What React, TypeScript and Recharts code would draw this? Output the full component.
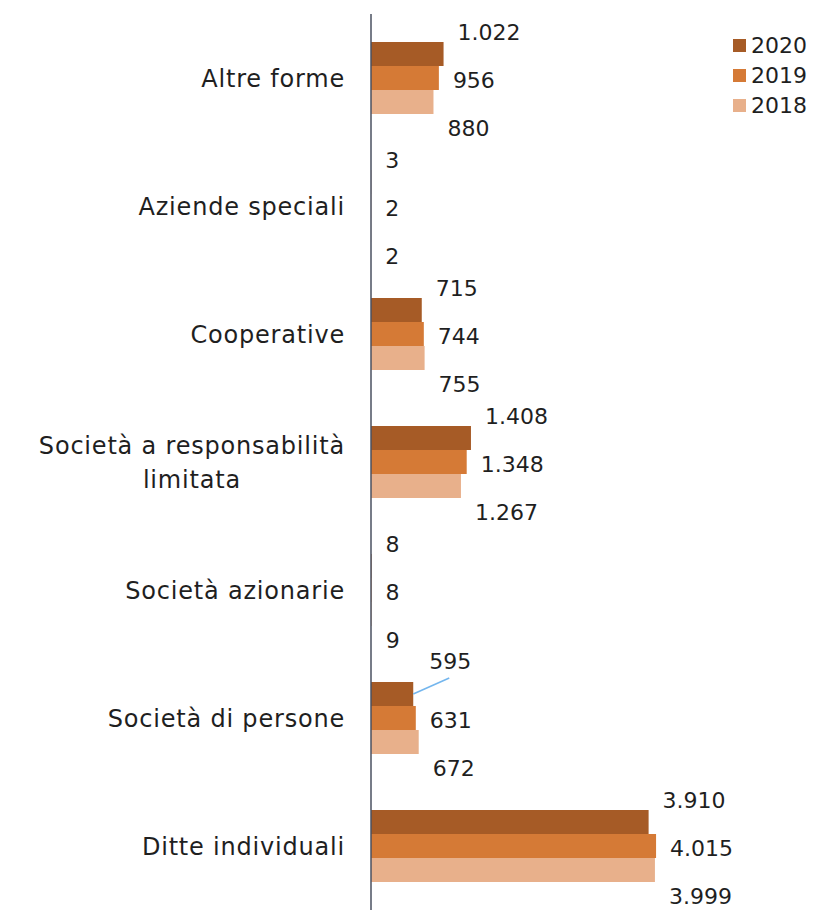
import { BarChart, Bar, XAxis, YAxis, LabelList } from 'recharts';

const categories = [
  'Altre forme',
  'Aziende speciali',
  'Cooperative',
  'Società a responsabilità limitata',
  'Società azionarie',
  'Società di persone',
  'Ditte individuali',
];
const values2020 = [1022, 3, 715, 1408, 8, 595, 3910];
const values2019 = [956, 2, 744, 1348, 8, 631, 4015];
const values2018 = [880, 2, 755, 1267, 9, 672, 3999];
const years = ['2020', '2019', '2018'];

const COLORS: Record<string, string> = { '2020': '#A65B26', '2019': '#D57A36', '2018': '#E8B08B' };
const FONT = '"DejaVu Sans", sans-serif';
const TEXT = '#1f1f1f';
const CAT_SPACING = 0.8;

const data = categories.map((name, i) => ({
  name,
  '2020': values2020[i],
  '2019': values2019[i],
  '2018': values2018[i],
}));

const fmt = (v: number) => v.toLocaleString('it-IT');

let ctx: CanvasRenderingContext2D | null = null;
function measure(text: string, size: number) {
  if (!ctx) ctx = document.createElement('canvas').getContext('2d');
  if (!ctx) return text.length * size * 0.55;
  ctx.font = `${size}px "DejaVu Sans"`;
  return ctx.measureText(text).width + text.length * CAT_SPACING;
}

function wrap(text: string, size: number, max: number) {
  const words = text.split(' ');
  const lines: string[] = [];
  let cur = '';
  for (const w of words) {
    const next = cur ? cur + ' ' + w : w;
    if (cur && measure(next, size) > max) {
      lines.push(cur);
      cur = w;
    } else cur = next;
  }
  if (cur) lines.push(cur);
  return lines;
}

function CategoryTick(props: any) {
  const { x, y, payload } = props;
  const size = 24;
  const lines = wrap(payload.value, size, 330);
  if (lines.length === 1) {
    return (
      <text x={x} y={y + 1} textAnchor="end" dominantBaseline="central" fontSize={size} fontFamily={FONT} letterSpacing={CAT_SPACING} fill={TEXT}>
        {payload.value}
      </text>
    );
  }
  const blockW = Math.max(...lines.map(l => measure(l, size)));
  const lh = 34;
  const top = y + 1 - ((lines.length - 1) * lh) / 2;
  return (
    <g>
      {lines.map((l, i) => (
        <text key={i} x={x - blockW / 2} y={top + i * lh} textAnchor="middle" dominantBaseline="central" fontSize={size} fontFamily={FONT} letterSpacing={CAT_SPACING} fill={TEXT}>
          {l}
        </text>
      ))}
    </g>
  );
}

// Excel-style labels: 2020 above, 2019 beside, 2018 below the bar end
const labelDy: Record<string, number> = { '2020': -22, '2019': 2, '2018': 26 };

function makeLabel(year: string) {
  return (props: any) => {
    const { x, y, width, height, value, index } = props;
    const end = x + width;
    const cy = y + height / 2;
    // the 2020 label of "Società di persone" was dragged upward, with a leader line
    if (year === '2020' && categories[index] === 'Società di persone') {
      return (
        <g>
          <line x1={end} y1={cy} x2={end + 36} y2={cy - 16} stroke="#74B6EE" strokeWidth={1.5} />
          <text x={end + 16} y={cy - 33} dominantBaseline="central" fontSize={22} fontFamily={FONT} fill={TEXT}>
            {fmt(value)}
          </text>
        </g>
      );
    }
    return (
      <text x={end + 14} y={cy + labelDy[year]} dominantBaseline="central" fontSize={22} fontFamily={FONT} fill={TEXT}>
        {fmt(value)}
      </text>
    );
  };
}

export default function App() {
  return (
    <div style={{ position: 'relative', width: 819, height: 902 }}>
      <BarChart
        width={819}
        height={902}
        data={data}
        layout="vertical"
        margin={{ top: 6, right: 101, bottom: 0, left: 0 }}
        barGap={0}
        barSize={24}
      >
        <XAxis type="number" domain={[0, 5000]} hide />
        <YAxis
          type="category"
          dataKey="name"
          width={363}
          axisLine={{ stroke: '#4A5160', strokeWidth: 1.5 }}
          tickLine={false}
          tickSize={0}
          tickMargin={26}
          tick={<CategoryTick />}
          interval={0}
        />
        {years.map(yr => (
          <Bar key={yr} dataKey={yr} fill={COLORS[yr]} isAnimationActive={false}>
            <LabelList dataKey={yr} content={makeLabel(yr)} />
          </Bar>
        ))}
      </BarChart>
      <div style={{ position: 'absolute', left: 725, top: 22, fontFamily: FONT, fontSize: 22, color: TEXT }}>
        {years.map(yr => (
          <div key={yr} style={{ display: 'flex', alignItems: 'center', height: 30 }}>
            <span style={{ width: 13, height: 13, background: COLORS[yr], marginRight: 5, display: 'inline-block' }} />
            {yr}
          </div>
        ))}
      </div>
    </div>
  );
}
